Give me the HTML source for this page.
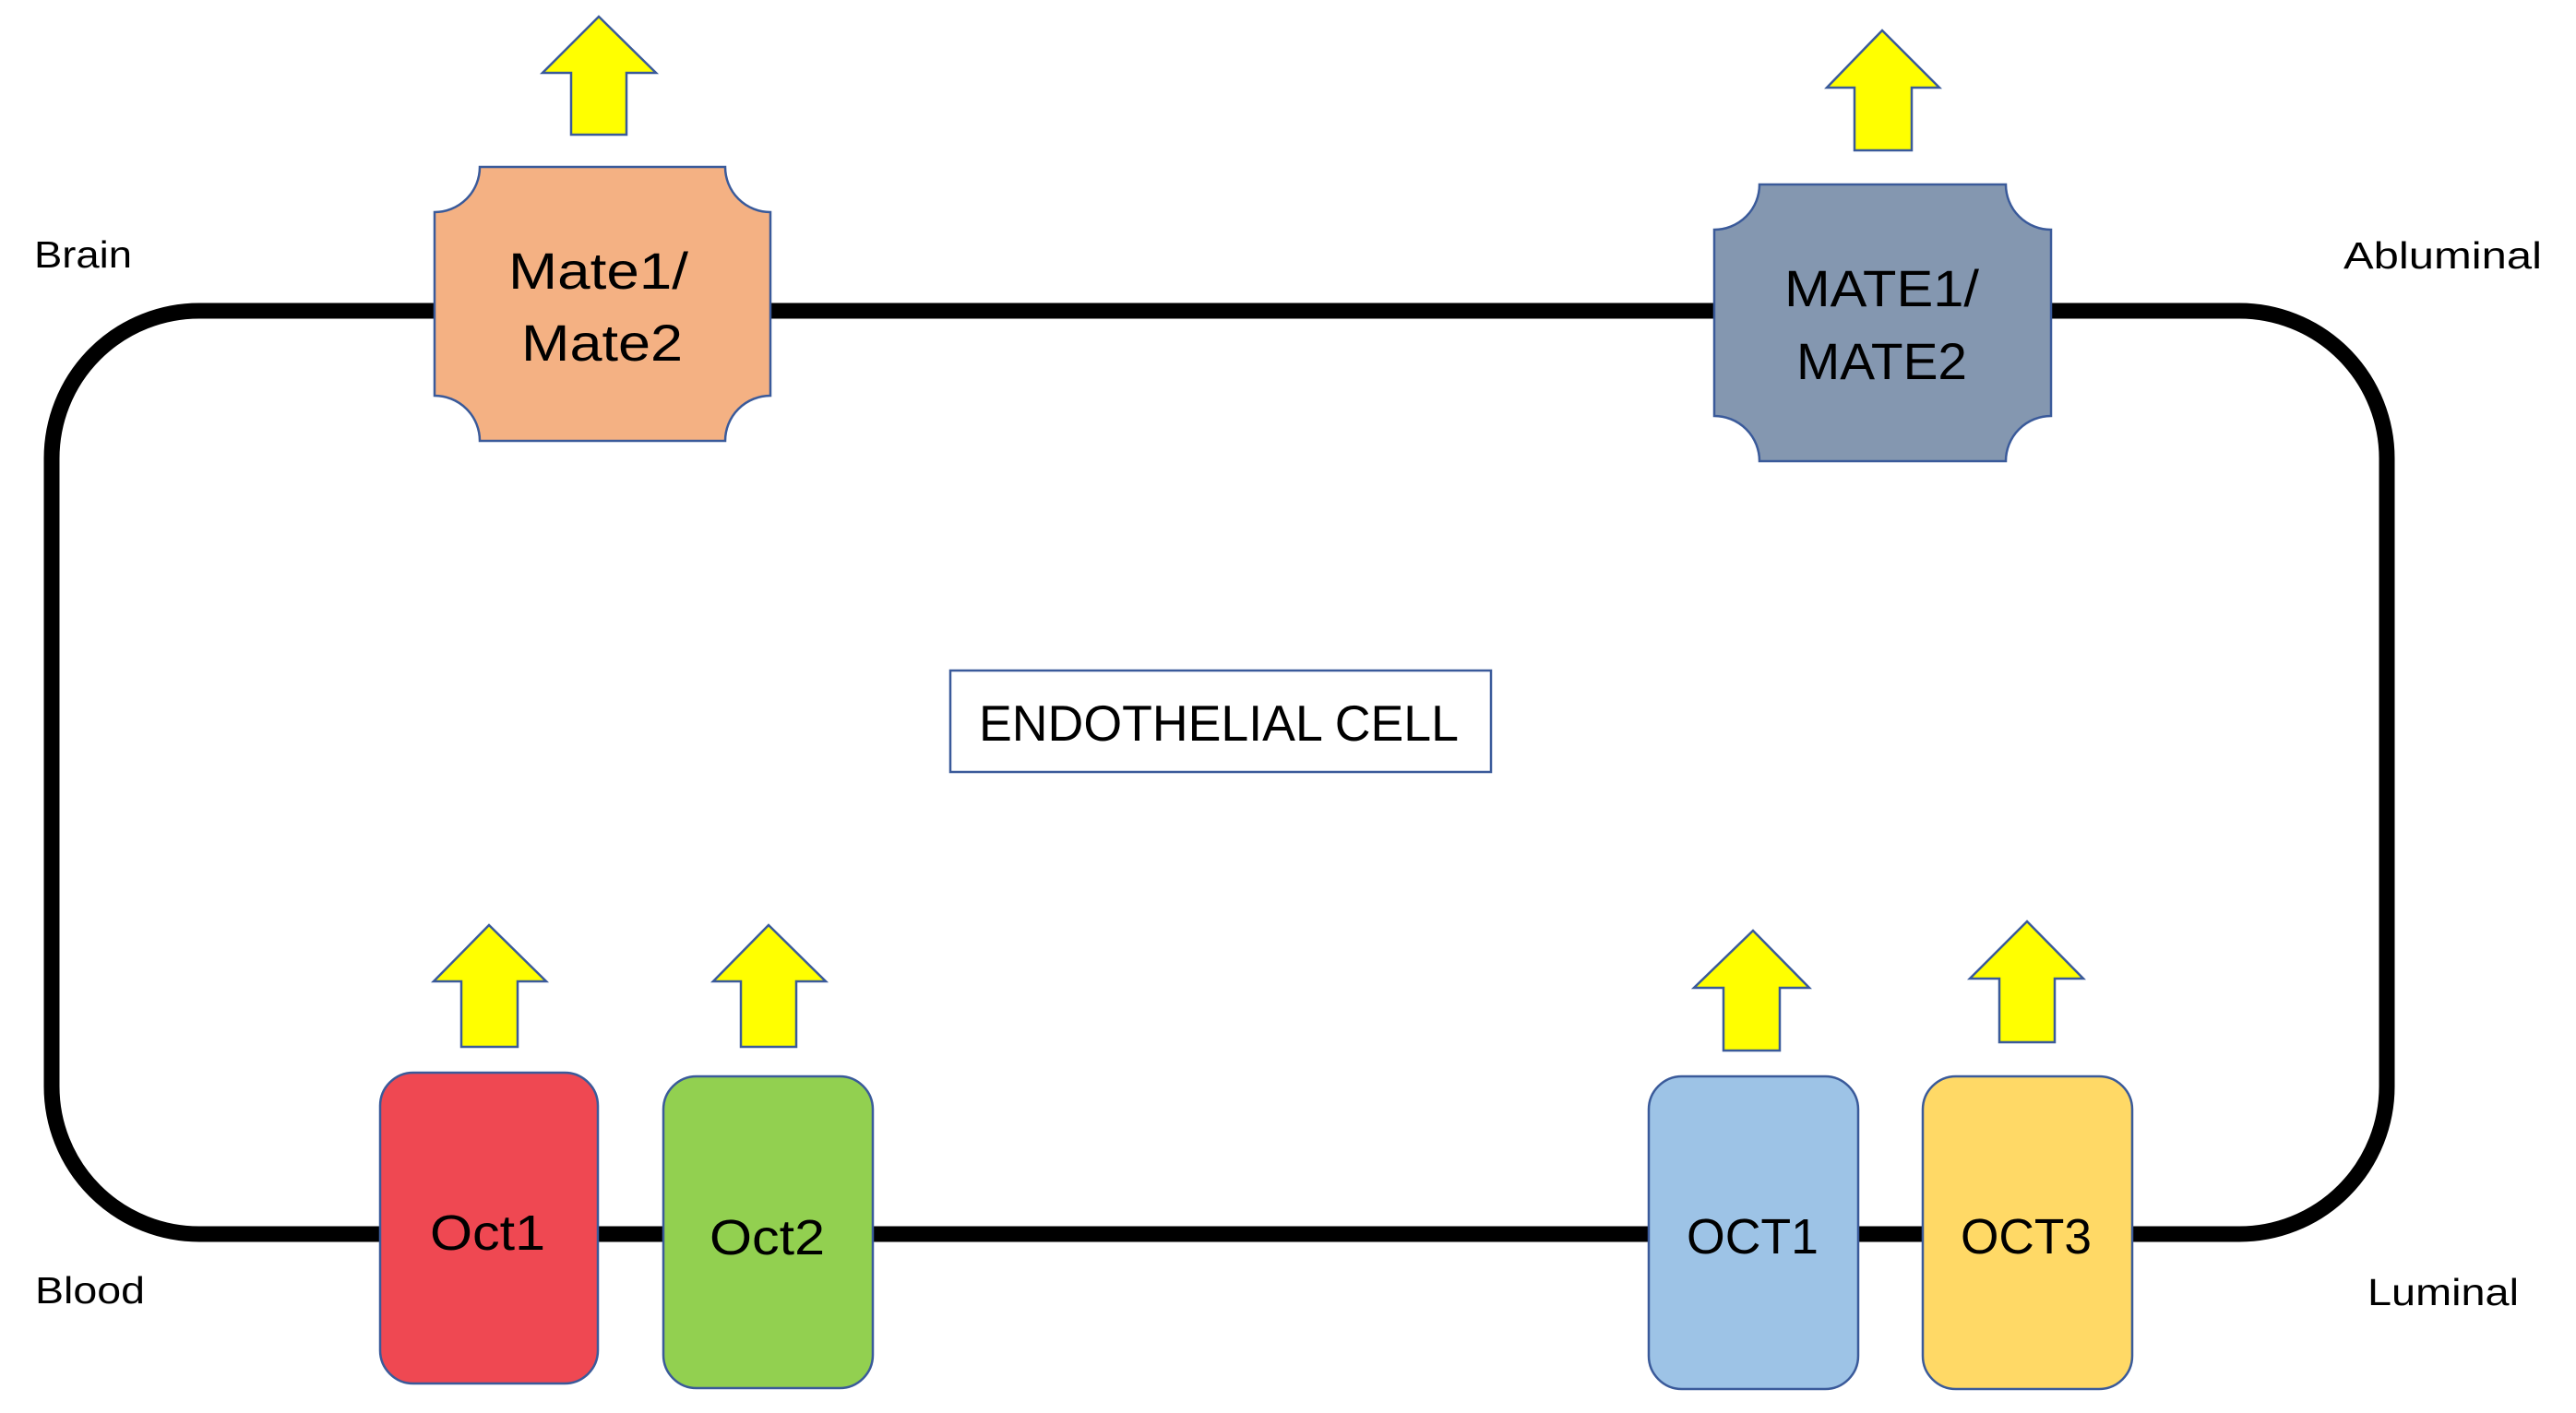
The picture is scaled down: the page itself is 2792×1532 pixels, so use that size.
<!DOCTYPE html>
<html><head><meta charset="utf-8"><style>
html,body{margin:0;padding:0;background:#fff;}
svg{display:block;}
text{font-family:"Liberation Sans",sans-serif;fill:#000;}
</style></head><body>
<svg width="2792" height="1532" viewBox="0 0 2792 1532" xmlns="http://www.w3.org/2000/svg">
<rect width="2792" height="1532" fill="#fff"/>
<!-- cell membrane -->
<rect x="56" y="337" width="2531" height="1001" rx="160" ry="160" fill="none" stroke="#000" stroke-width="17"/>

<!-- arrows -->
<g fill="#FFFF00" stroke="#3A5A9A" stroke-width="2.5" stroke-linejoin="miter">
<polygon points="649,18 711,79 679,79 679,146 619,146 619,79 588,79"/>
<polygon points="2040,33 2102,95 2072,95 2072,163 2010,163 2010,95 1980,95"/>
<polygon points="530,1003 592,1064 561,1064 561,1135 500,1135 500,1064 470,1064"/>
<polygon points="833,1003 895,1064 863,1064 863,1135 803,1135 803,1064 773,1064"/>
<polygon points="1900,1009 1961,1071 1929,1071 1929,1139 1868,1139 1868,1071 1836,1071"/>
<polygon points="2197,999 2258,1061 2227,1061 2227,1130 2167,1130 2167,1061 2135,1061"/>
</g>

<!-- Mate boxes -->
<path d="M520,181 L786,181 A49,49 0 0 0 835,230 L835,429 A49,49 0 0 0 786,478 L520,478 A49,49 0 0 0 471,429 L471,230 A49,49 0 0 0 520,181 Z" fill="#F4B183" stroke="#3A5A9A" stroke-width="2.5"/>
<path d="M1907,200 L2174,200 A49,49 0 0 0 2223,249 L2223,451 A49,49 0 0 0 2174,500 L1907,500 A49,49 0 0 0 1858,451 L1858,249 A49,49 0 0 0 1907,200 Z" fill="#8497B0" stroke="#3A5A9A" stroke-width="2.5"/>

<!-- Oct boxes -->
<rect x="412" y="1163" width="236" height="337" rx="36" ry="36" fill="#EF4852" stroke="#3A5A9A" stroke-width="2.5"/>
<rect x="719" y="1167" width="227" height="338" rx="36" ry="36" fill="#92D050" stroke="#3A5A9A" stroke-width="2.5"/>
<rect x="1787" y="1167" width="227" height="339" rx="36" ry="36" fill="#9DC3E6" stroke="#3A5A9A" stroke-width="2.5"/>
<rect x="2084" y="1167" width="227" height="339" rx="36" ry="36" fill="#FFD966" stroke="#3A5A9A" stroke-width="2.5"/>

<!-- endothelial label box -->
<rect x="1030" y="727" width="586" height="110" fill="#fff" stroke="#3A5A9A" stroke-width="2.5"/>

<!-- texts -->
<text x="37" y="290" font-size="41" textLength="106" lengthAdjust="spacingAndGlyphs">Brain</text>
<text x="38" y="1413" font-size="41" textLength="119" lengthAdjust="spacingAndGlyphs">Blood</text>
<text x="2540" y="291" font-size="41" textLength="215" lengthAdjust="spacingAndGlyphs">Abluminal</text>
<text x="2566" y="1415" font-size="41" textLength="164" lengthAdjust="spacingAndGlyphs">Luminal</text>

<text x="551" y="313" font-size="56" textLength="195" lengthAdjust="spacingAndGlyphs">Mate1/</text>
<text x="565" y="391" font-size="56" textLength="175" lengthAdjust="spacingAndGlyphs">Mate2</text>
<text x="1934" y="332" font-size="56" textLength="211" lengthAdjust="spacingAndGlyphs">MATE1/</text>
<text x="1947" y="411" font-size="56" textLength="185" lengthAdjust="spacingAndGlyphs">MATE2</text>

<text x="1061" y="803" font-size="55" textLength="520" lengthAdjust="spacingAndGlyphs">ENDOTHELIAL CELL</text>

<text x="466" y="1355" font-size="54" textLength="125" lengthAdjust="spacingAndGlyphs">Oct1</text>
<text x="769" y="1360" font-size="54" textLength="125" lengthAdjust="spacingAndGlyphs">Oct2</text>
<text x="1828" y="1359" font-size="54" textLength="143" lengthAdjust="spacingAndGlyphs">OCT1</text>
<text x="2125" y="1359" font-size="54" textLength="142" lengthAdjust="spacingAndGlyphs">OCT3</text>
</svg>
</body></html>
